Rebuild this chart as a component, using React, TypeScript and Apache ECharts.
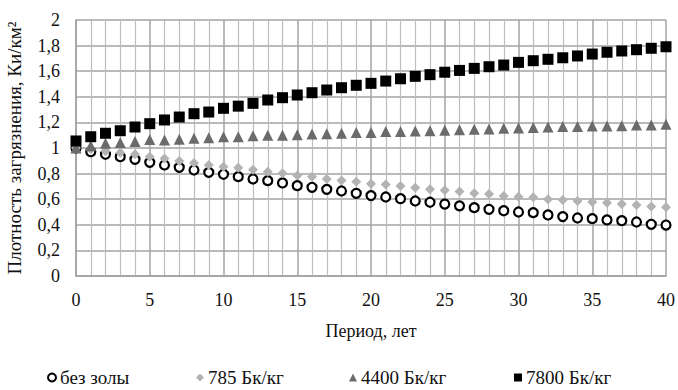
import React, { useEffect, useRef } from "react";
import * as echarts from "echarts";

const years: number[] = Array.from({ length: 41 }, (_, i) => i);

const noAsh: number[] = [
  1.0, 0.971, 0.951, 0.932, 0.911, 0.888, 0.867, 0.849, 0.828, 0.81, 0.795,
  0.776, 0.758, 0.745, 0.727, 0.706, 0.693, 0.677, 0.664, 0.646, 0.628,
  0.617, 0.604, 0.586, 0.576, 0.562, 0.548, 0.534, 0.521, 0.51, 0.5,
  0.495, 0.477, 0.464, 0.453, 0.448, 0.438, 0.432, 0.422, 0.404, 0.398,
];

const s785: number[] = [
  1.0, 0.99, 0.975, 0.963, 0.951, 0.932, 0.917, 0.898, 0.883, 0.867, 0.854,
  0.846, 0.831, 0.815, 0.802, 0.786, 0.776, 0.758, 0.747, 0.737, 0.721,
  0.714, 0.703, 0.69, 0.677, 0.67, 0.66, 0.646, 0.641, 0.625, 0.62,
  0.615, 0.599, 0.594, 0.586, 0.578, 0.573, 0.562, 0.555, 0.542, 0.537,
];

const s4400: number[] = [
  1.0, 1.018, 1.037, 1.042, 1.05, 1.066, 1.063, 1.068, 1.076, 1.081, 1.088,
  1.088, 1.096, 1.1, 1.1, 1.104, 1.109, 1.112, 1.115, 1.122, 1.122,
  1.128, 1.128, 1.133, 1.135, 1.139, 1.142, 1.146, 1.148, 1.154, 1.156,
  1.161, 1.164, 1.167, 1.167, 1.172, 1.172, 1.174, 1.18, 1.18, 1.185,
];

const s7800: number[] = [
  1.055, 1.088, 1.115, 1.135, 1.164, 1.19, 1.219, 1.242, 1.268, 1.281, 1.31,
  1.327, 1.349, 1.375, 1.393, 1.414, 1.432, 1.453, 1.471, 1.49, 1.505,
  1.523, 1.541, 1.56, 1.573, 1.592, 1.606, 1.622, 1.635, 1.648, 1.669,
  1.682, 1.693, 1.705, 1.719, 1.734, 1.748, 1.758, 1.768, 1.779, 1.791,
];

const seriesNames: string[] = ["без золы", "785 Бк/кг", "4400 Бк/кг", "7800 Бк/кг"];
const xTitle = "Период, лет";
const yTitle = "Плотность загрязнения, Ки/км²";

const FONT = "Liberation Serif, Times New Roman, serif";
const TXT = "#111111";

export default function App() {
  const ref = useRef<HTMLDivElement>(null);
  useEffect(() => {
    if (!ref.current) return;
    const chart = echarts.init(ref.current, undefined, { renderer: "svg" });
    const toPairs = (arr: number[]) => arr.map((v, i) => [years[i], v]);
    const legendPos = [47, 196, 349, 514];
    chart.setOption({
      animation: false,
      backgroundColor: "#ffffff",
      textStyle: { fontFamily: FONT, color: TXT },
      grid: { left: 76, right: 12, top: 20, bottom: 114, containLabel: false, outerBoundsMode: "none" },
      legend: seriesNames.map((n, i) => ({
        data: [n],
        left: legendPos[i],
        top: 368,
        padding: 0,
        itemWidth: 8,
        itemHeight: 8,
        textStyle: { fontFamily: FONT, fontSize: 19, color: TXT, padding: [0, 0, 0, -1] },
      })),
      xAxis: {
        type: "value",
        min: 0,
        max: 40,
        interval: 5,
        name: xTitle,
        nameLocation: "middle",
        nameGap: 46,
        nameTextStyle: { fontFamily: FONT, fontSize: 18, color: TXT },
        axisLine: { show: true, lineStyle: { color: "#a0a0a0", width: 1.5 } },
        axisTick: { show: false },
        axisLabel: { fontFamily: FONT, fontSize: 18, color: TXT, margin: 15 },
        splitLine: { show: true, lineStyle: { color: "#a3a3a3", width: 1.5 } },
        minorTick: { show: false, splitNumber: 5 },
        minorSplitLine: { show: true, lineStyle: { color: "#bdbdbd", width: 1.2 } },
      },
      yAxis: {
        type: "value",
        min: 0,
        max: 2,
        interval: 0.2,
        name: yTitle,
        nameLocation: "middle",
        nameGap: 52,
        nameTextStyle: { fontFamily: FONT, fontSize: 19, color: TXT },
        axisLine: { show: true, lineStyle: { color: "#a0a0a0", width: 1.5 } },
        axisTick: { show: false },
        axisLabel: {
          fontFamily: FONT,
          fontSize: 18,
          color: TXT,
          margin: 16,
          formatter: (v: number) => String(Math.round(v * 10) / 10).replace(".", ","),
        },
        splitLine: { show: true, lineStyle: { color: "#a3a3a3", width: 1.5 } },
      },
      series: [
        {
          name: seriesNames[0],
          type: "scatter",
          symbol: "circle",
          symbolSize: 9,
          data: toPairs(noAsh),
          itemStyle: { color: "#ffffff", borderColor: "#000000", borderWidth: 2.2, opacity: 1 },
        },
        {
          name: seriesNames[1],
          type: "scatter",
          symbol: "diamond",
          symbolSize: 10,
          data: toPairs(s785),
          itemStyle: { color: "#b3b3b3", opacity: 1 },
        },
        {
          name: seriesNames[2],
          type: "scatter",
          symbol: "triangle",
          symbolSize: 11,
          data: toPairs(s4400),
          itemStyle: { color: "#6b6b6b", opacity: 1 },
        },
        {
          name: seriesNames[3],
          type: "scatter",
          symbol: "rect",
          symbolSize: 11,
          data: toPairs(s7800),
          itemStyle: { color: "#000000", opacity: 1 },
        },
      ],
    });
    return () => chart.dispose();
  }, []);
  return <div ref={ref} style={{ width: 678, height: 390, position: "absolute", left: 0, top: 0 }} />;
}
